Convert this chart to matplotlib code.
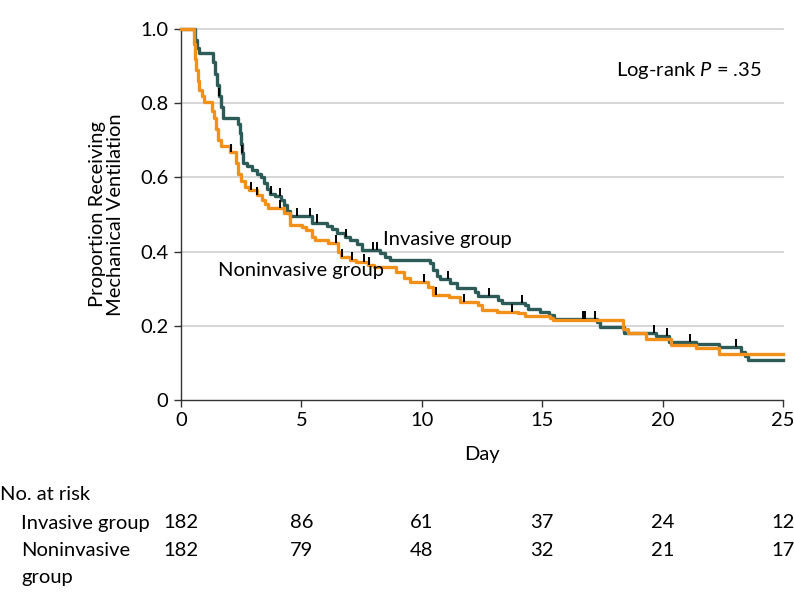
import numpy as np
import matplotlib
matplotlib.use("Agg")
import matplotlib.pyplot as plt

plt.rcParams['font.family'] = ['Lato', 'DejaVu Sans']
plt.rcParams['mathtext.fontset'] = 'custom'
plt.rcParams['mathtext.rm'] = 'Lato'
plt.rcParams['mathtext.it'] = 'Lato:italic'

# Kaplan-Meier steps (day, proportion after step)
inv_t = [0, 0.58, 0.66, 0.75, 1.33, 1.41, 1.50, 1.58, 1.66, 1.74, 2.37, 2.45, 2.49, 2.53,
         2.57, 2.74, 2.95, 3.16, 3.32, 3.45, 3.57, 3.70, 3.90, 4.15, 4.28, 4.40, 4.53,
         5.44, 6.06, 6.27, 6.48, 6.81, 7.02, 7.31, 7.52, 8.26, 8.47, 8.68, 10.34, 10.47,
         10.63, 10.76, 11.17, 11.46, 12.21, 12.33, 13.16, 13.33, 14.29, 14.41, 14.91,
         15.28, 15.49, 17.28, 17.40, 18.40, 19.73, 20.27, 21.39, 22.34, 23.26, 23.42, 23.55]
inv_s = [1.0, 0.97, 0.95, 0.935, 0.91, 0.88, 0.85, 0.82, 0.79, 0.76, 0.745, 0.72, 0.69, 0.665,
         0.64, 0.63, 0.62, 0.61, 0.60, 0.585, 0.57, 0.555, 0.55, 0.54, 0.525, 0.51, 0.495,
         0.478, 0.47, 0.46, 0.45, 0.44, 0.43, 0.42, 0.405, 0.395, 0.385, 0.377, 0.368, 0.35,
         0.335, 0.325, 0.315, 0.302, 0.291, 0.28, 0.27, 0.262, 0.255, 0.246, 0.237,
         0.229, 0.218, 0.21, 0.197, 0.181, 0.173, 0.156, 0.151, 0.143, 0.13, 0.118, 0.108]
inv_cens = [1.58, 2.53, 3.74, 4.11, 4.82, 5.36, 5.65, 6.85, 7.97, 8.14, 11.09, 12.79,
            14.16, 16.69, 16.76, 17.19, 19.64, 20.18, 21.14, 23.05]

non_t = [0, 0.54, 0.58, 0.62, 0.71, 0.75, 0.87, 0.95, 1.29, 1.37, 1.45, 1.54, 1.66, 2.03,
         2.28, 2.37, 2.49, 2.66, 2.82, 3.16, 3.36, 3.49, 3.61, 4.28, 4.53, 5.02, 5.19, 5.44,
         5.56, 6.10, 6.52, 6.64, 7.02, 7.27, 7.77, 8.01, 8.93, 9.26, 9.51, 10.26, 10.47,
         11.13, 11.59, 12.33, 12.50, 13.12, 14.00, 14.29, 15.32, 15.45, 18.36, 18.56,
         19.31, 20.35, 21.39, 22.34]
non_s = [1.0, 0.96, 0.92, 0.89, 0.86, 0.836, 0.82, 0.803, 0.78, 0.76, 0.73, 0.70, 0.685, 0.668,
         0.64, 0.61, 0.59, 0.575, 0.566, 0.553, 0.54, 0.528, 0.517, 0.504, 0.472, 0.465, 0.458, 0.44,
         0.431, 0.423, 0.40, 0.385, 0.377, 0.372, 0.364, 0.358, 0.345, 0.33, 0.318, 0.305, 0.283,
         0.278, 0.264, 0.256, 0.243, 0.237, 0.234, 0.226, 0.221, 0.216, 0.19, 0.181,
         0.164, 0.148, 0.14, 0.125]
non_cens = [2.08, 2.91, 3.16, 4.11, 6.44, 6.69, 7.10, 7.60, 7.81, 10.09, 10.59, 11.75, 13.75]

risk_days = [0, 5, 10, 15, 20, 25]
risk_inv = [182, 86, 61, 37, 24, 12]
risk_non = [182, 79, 48, 32, 21, 17]

teal = '#2d5b58'
orange = '#f39019'
fs = 14.5

fig = plt.figure(figsize=(7.94, 6.05), dpi=100)
ax = fig.add_axes([0.228, 0.339, 0.758, 0.613])

for t, s, c, col in [(inv_t, inv_s, inv_cens, teal), (non_t, non_s, non_cens, orange)]:
    t = np.array(t + [25.0])
    s = np.array(s + [s[-1]])
    ax.step(t, s, where='post', color=col, lw=2.4, clip_on=False, zorder=3)
    idx = np.searchsorted(t, c, side='right') - 1
    cv = s[idx]
    ax.vlines(c, cv, cv + 0.022, color='black', lw=1.4, zorder=4)

ax.set_xlim(0, 25)
ax.set_ylim(0, 1.0)
ax.set_xticks(risk_days)
ax.set_yticks([0, 0.2, 0.4, 0.6, 0.8, 1.0])
ax.set_yticklabels(['0', '0.2', '0.4', '0.6', '0.8', '1.0'])
for y in [0.2, 0.4, 0.6, 0.8, 1.0]:
    ax.axhline(y, color='#d6d6d6', lw=1.4, zorder=1, clip_on=False)
for side in ['top', 'right']:
    ax.spines[side].set_visible(False)
for side in ['left', 'bottom']:
    ax.spines[side].set_linewidth(1.0)
    ax.spines[side].set_color('#333333')
ax.tick_params(axis='both', labelsize=fs, length=5, width=1.0, color='#333333', pad=4)
ax.set_xlabel('Day', fontsize=fs, labelpad=12)
ax.set_ylabel('Proportion Receiving\nMechanical Ventilation', fontsize=fs, labelpad=12, linespacing=1.05)

ax.text(8.4, 0.432, 'Invasive group', fontsize=fs, va='center', ha='left')
ax.text(1.55, 0.35, 'Noninvasive group', fontsize=fs, va='center', ha='left')
ax.text(24.1, 0.887, r'Log-rank $P$ = .35', fontsize=fs, va='center', ha='right')

# number at risk table
fig.text(0.0, 1 - 495 / 605, 'No. at risk', fontsize=fs, va='center', ha='left')
fig.text(0.027, 1 - 523 / 605, 'Invasive group', fontsize=fs, va='center', ha='left')
fig.text(0.027, 1 - 550 / 605, 'Noninvasive', fontsize=fs, va='center', ha='left')
fig.text(0.027, 1 - 577 / 605, 'group', fontsize=fs, va='center', ha='left')
trans = matplotlib.transforms.blended_transform_factory(ax.transData, fig.transFigure)
for d, a, b in zip(risk_days, risk_inv, risk_non):
    ax.text(d, 1 - 523 / 605, str(a), transform=trans, fontsize=fs, ha='center', va='center', clip_on=False)
    ax.text(d, 1 - 550 / 605, str(b), transform=trans, fontsize=fs, ha='center', va='center', clip_on=False)

fig.savefig('out.png', dpi=100)
